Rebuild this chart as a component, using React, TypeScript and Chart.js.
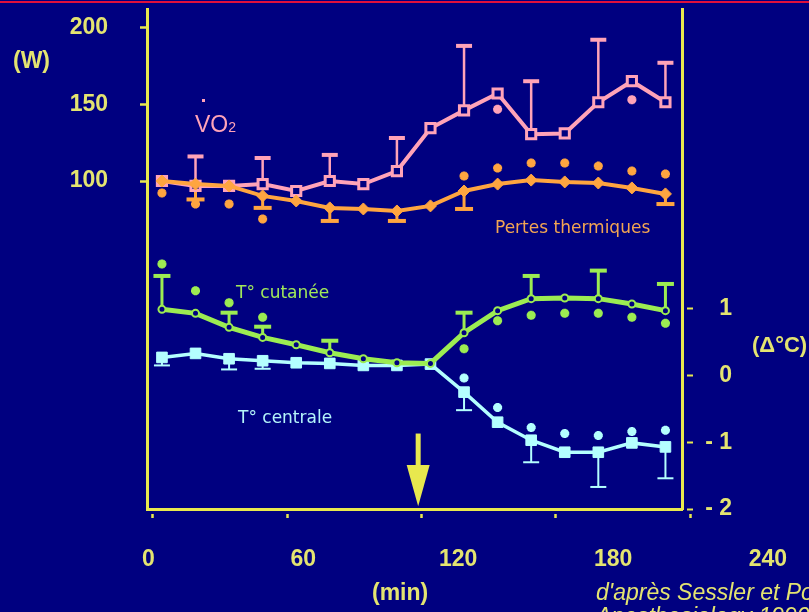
import React, { useEffect, useRef } from "react";
import { Chart, registerables } from "chart.js";

Chart.register(...registerables);

// ---- data ----
const times = [4, 19, 34, 49, 64, 79, 94, 109, 124, 139, 154, 169, 184, 199, 214, 229];

const vo2 = [100, 96.8, 96.8, 98, 93.5, 100, 98, 106.5, 134.4, 146, 157, 130.5, 131, 151.3, 165, 151.3];
const vo2ErrUp = [null, 116, null, 115, null, 117, null, 128, null, 188, null, 165, null, 192, null, 177];
const vo2Sig = [null, null, null, null, null, null, null, null, null, null, 146.8, null, null, null, 153, null];

const pertes = [100, 98, 96.8, 90.3, 87, 82.5, 81.8, 80.5, 83.8, 93.5, 98, 100.6, 99.4, 98.7, 95.5, 91.6];
const pertesErrDown = [null, 88, null, 82.5, null, 74, null, 74, null, 81.8, null, null, null, null, null, 85];
const pertesSig = [92.2, 85.1, 85.1, 75.3, null, null, null, null, null, 103.2, 108.4, 111.7, 111.7, 109.7, 106.5, 104.5];

const tCutanee = [0.99, 0.93, 0.72, 0.57, 0.46, 0.34, 0.25, 0.19, 0.18, 0.64, 0.97, 1.15, 1.16, 1.15, 1.07, 0.97];
const tCutaneeErrUp = [1.49, null, 0.94, 0.73, null, 0.52, null, null, null, 0.94, null, 1.49, null, 1.57, null, 1.37];
const tCutaneeSig = [1.67, 1.27, 1.09, 0.87, null, null, null, null, null, 0.4, 0.82, 0.9, 0.93, 0.93, 0.87, 0.78];

const tCentrale = [0.27, 0.33, 0.25, 0.22, 0.19, 0.18, 0.15, 0.15, 0.17, -0.25, -0.7, -0.97, -1.15, -1.15, -1.01, -1.07];
const tCentraleErrDown = [0.15, null, 0.09, 0.1, null, null, null, null, null, -0.52, null, -1.3, null, -1.67, null, -1.54];
const tCentraleSig = [null, null, null, null, null, null, null, null, null, -0.04, -0.48, -0.78, -0.87, -0.9, -0.84, -0.82];

const timeTicks = [0, 60, 120, 180, 240];
const powerTicks = [100, 150, 200];
const tempTicks = [-2, -1, 0, 1];

// arrow (start of the event), time in min, extent in °C
const arrowTime = 118.5;
const arrowStemTop = -0.87;
const arrowHeadBase = -1.34;
const arrowTip = -1.96;

// ---- styles ----
const NAVY = "#000080";
const AXIS = "#E8E84E";
const TEXT = "#E4E470";
const PINK = "#FFA3B8";
const ORANGE = "#FFA540";
const GREEN = "#9CEC52";
const CYAN = "#B4FFFF";
const FONT = "'Liberation Sans', Arial, sans-serif";

const pts = (ys: (number | null)[]) => times.map((t, i) => ({ x: t, y: ys[i] }));

const errorBarPlugin = {
  id: "errorBars",
  beforeDatasetsDraw(chart: any) {
    const ctx = chart.ctx;
    chart.data.datasets.forEach((ds: any, i: number) => {
      if (!ds.errorBars) return;
      const meta = chart.getDatasetMeta(i);
      const xs = chart.scales[meta.xAxisID];
      const ys = chart.scales[meta.yAxisID];
      ctx.save();
      ctx.strokeStyle = ds.borderColor;
      ds.errorBars.forEach((e: number | null, j: number) => {
        if (e == null) return;
        const p = ds.data[j];
        const x = xs.getPixelForValue(p.x);
        const y0 = ys.getPixelForValue(p.y);
        const y1 = ys.getPixelForValue(e);
        ctx.lineWidth = ds.errorStem;
        ctx.beginPath();
        ctx.moveTo(x, y0);
        ctx.lineTo(x, y1);
        ctx.stroke();
        ctx.lineWidth = ds.errorCapWidth;
        ctx.beginPath();
        ctx.moveTo(x - ds.errorCap, y1);
        ctx.lineTo(x + ds.errorCap, y1);
        ctx.stroke();
      });
      ctx.restore();
    });
  },
};

const arrowPlugin = {
  id: "arrow",
  afterDatasetsDraw(chart: any) {
    const ctx = chart.ctx;
    const x = chart.scales.x.getPixelForValue(arrowTime);
    const yc = chart.scales.yC;
    const yTop = yc.getPixelForValue(arrowStemTop);
    const yBase = yc.getPixelForValue(arrowHeadBase);
    const yTip = yc.getPixelForValue(arrowTip);
    ctx.save();
    ctx.fillStyle = AXIS;
    ctx.fillRect(x - 2.5, yTop, 5, yBase - yTop + 1);
    ctx.beginPath();
    ctx.moveTo(x - 11.5, yBase);
    ctx.lineTo(x + 11.5, yBase);
    ctx.lineTo(x, yTip);
    ctx.closePath();
    ctx.fill();
    ctx.restore();
  },
};

const noPad = (s: any) => {
  s.paddingTop = 0;
  s.paddingBottom = 0;
  s.paddingLeft = 0;
  s.paddingRight = 0;
};

const sigSet = (data: (number | null)[], color: string, axis: string) => ({
  data: pts(data),
  yAxisID: axis,
  showLine: false,
  pointStyle: "star",
  pointRadius: 4.5,
  pointBorderWidth: 3,
  borderColor: color,
  backgroundColor: color,
  pointBorderColor: color,
});

export default function App() {
  const ref = useRef<HTMLCanvasElement | null>(null);

  useEffect(() => {
    if (!ref.current) return;
    const chart = new Chart(ref.current, {
      type: "line",
      data: {
        datasets: [
          {
            label: "Pertes thermiques",
            data: pts(pertes),
            yAxisID: "yW",
            borderColor: ORANGE,
            backgroundColor: ORANGE,
            borderWidth: 4,
            pointStyle: "rectRot",
            pointRadius: 6,
            pointBackgroundColor: ORANGE,
            pointBorderColor: ORANGE,
            pointBorderWidth: 1,
            errorBars: pertesErrDown,
            errorStem: 3,
            errorCap: 9,
            errorCapWidth: 4,
          } as any,
          {
            label: "VO2",
            data: pts(vo2),
            yAxisID: "yW",
            borderColor: PINK,
            backgroundColor: PINK,
            borderWidth: 4,
            pointStyle: "rect",
            pointRadius: 6.5,
            pointBackgroundColor: NAVY,
            pointBorderColor: PINK,
            pointBorderWidth: 3,
            errorBars: vo2ErrUp,
            errorStem: 2.5,
            errorCap: 8,
            errorCapWidth: 4,
          } as any,
          {
            label: "T° cutanée",
            data: pts(tCutanee),
            yAxisID: "yC",
            borderColor: GREEN,
            backgroundColor: GREEN,
            borderWidth: 5,
            pointStyle: "circle",
            pointRadius: 3.5,
            pointBackgroundColor: NAVY,
            pointBorderColor: GREEN,
            pointBorderWidth: 2,
            errorBars: tCutaneeErrUp,
            errorStem: 3,
            errorCap: 8.5,
            errorCapWidth: 4,
          } as any,
          {
            label: "T° centrale",
            data: pts(tCentrale),
            yAxisID: "yC",
            borderColor: CYAN,
            backgroundColor: CYAN,
            borderWidth: 3.5,
            pointStyle: "rect",
            pointRadius: 7.5,
            pointBackgroundColor: CYAN,
            pointBorderColor: CYAN,
            pointBorderWidth: 1,
            errorBars: tCentraleErrDown,
            errorStem: 2,
            errorCap: 8,
            errorCapWidth: 2,
          } as any,
          sigSet(vo2Sig, PINK, "yW") as any,
          sigSet(pertesSig, ORANGE, "yW") as any,
          sigSet(tCutaneeSig, GREEN, "yC") as any,
          sigSet(tCentraleSig, CYAN, "yC") as any,
        ],
      },
      options: {
        animation: false,
        responsive: false,
        layout: { padding: { top: 8, left: 0, right: 77, bottom: 0 } },
        elements: { line: { tension: 0 } },
        plugins: { legend: { display: false }, tooltip: { enabled: false } },
        scales: {
          x: {
            type: "linear",
            position: "bottom",
            weight: 1,
            min: -2.68,
            max: 236.4,
            afterBuildTicks: (s: any) => {
              s.ticks = timeTicks.map((v) => ({ value: v }));
            },
            afterFit: (s: any) => {
              s.height = 20;
              noPad(s);
            },
            ticks: { display: false },
            grid: {
              drawOnChartArea: false,
              drawTicks: true,
              tickLength: 9,
              tickWidth: 2.5,
              tickColor: AXIS,
              tickBorderDash: [0, 3, 5, 100],
            },
            border: { color: AXIS, width: 3 },
          },
          xl: {
            type: "linear",
            position: "bottom",
            weight: 2,
            min: -0.54,
            max: 206.7,
            afterBuildTicks: (s: any) => {
              s.ticks = timeTicks.map((v) => ({ value: v }));
            },
            afterFit: (s: any) => {
              s.height = 83;
              noPad(s);
            },
            grid: { display: false, drawTicks: false },
            border: { display: false },
            ticks: {
              color: TEXT,
              font: { family: FONT, size: 23, weight: "bold" },
              padding: 17,
              autoSkip: false,
              maxRotation: 0,
              callback: (v: any) => String(v),
            },
          },
          yW: {
            type: "linear",
            position: "left",
            min: -113.6,
            max: 211.7,
            afterBuildTicks: (s: any) => {
              s.ticks = powerTicks.map((v) => ({ value: v }));
            },
            afterFit: (s: any) => {
              s.width = 147;
              noPad(s);
            },
            grid: {
              drawOnChartArea: false,
              tickLength: 7,
              tickWidth: 2.5,
              tickColor: AXIS,
            },
            border: { color: AXIS, width: 3 },
            ticks: {
              color: TEXT,
              font: { family: FONT, size: 23, weight: "bold" },
              padding: 32,
              callback: (v: any) => String(v),
            },
          },
          yC: {
            type: "linear",
            position: "right",
            min: -2,
            max: 5.48,
            afterBuildTicks: (s: any) => {
              s.ticks = tempTicks.map((v) => ({ value: v }));
            },
            afterFit: (s: any) => {
              s.width = 50;
              noPad(s);
            },
            grid: {
              drawOnChartArea: false,
              tickLength: 11,
              tickWidth: 2,
              tickColor: AXIS,
              tickBorderDash: [0, 3, 7, 100],
            },
            border: { color: AXIS, width: 3 },
            ticks: {
              color: TEXT,
              font: { family: FONT, size: 23, weight: "bold" },
              padding: 11,
              crossAlign: "far",
              callback: (v: any) => (v < 0 ? `- ${-v}` : String(v)),
            },
          },
        } as any,
      },
      plugins: [errorBarPlugin, arrowPlugin],
    });
    return () => chart.destroy();
  }, []);

  const abs = (left: number, top: number, extra: React.CSSProperties) => ({
    position: "absolute" as const,
    left,
    top,
    whiteSpace: "nowrap" as const,
    lineHeight: 1,
    margin: 0,
    ...extra,
  });

  const axisText: React.CSSProperties = { fontFamily: FONT, fontWeight: "bold", fontSize: 23, color: TEXT };
  const serText = (c: string): React.CSSProperties => ({ fontFamily: "'DejaVu Sans', sans-serif", fontSize: 17, color: c });

  return (
    <div style={{ position: "relative", width: 809, height: 612, background: NAVY, overflow: "hidden" }}>
      <style>{"html,body{margin:0;padding:0;overflow:hidden;background:#000080}"}</style>
      <div style={{ position: "absolute", left: 0, top: 1, width: 809, height: 2, background: "#E0103C" }} />
      <canvas ref={ref} width={809} height={612} style={{ position: "absolute", left: 0, top: 0 }} />
      <div style={abs(13, 49, axisText)}>(W)</div>
      <div style={abs(195, 113, { fontFamily: FONT, fontSize: 23, color: PINK })}>
        VO<span style={{ fontSize: 14 }}>2</span>
      </div>
      <div style={{ position: "absolute", left: 202, top: 99, width: 3, height: 3, background: PINK }} />
      <div style={abs(495, 219, serText("#F2A552"))}>Pertes thermiques</div>
      <div style={abs(236, 284, serText("#A0E85A"))}>T° cutanée</div>
      <div style={abs(238, 409, serText("#B4F4FA"))}>T° centrale</div>
      <div style={abs(752, 334, { ...axisText, fontSize: 22 })}>(Δ°C)</div>
      <div style={abs(372, 581, axisText)}>(min)</div>
      <div
        style={{
          position: "absolute",
          left: 596,
          top: 580,
          whiteSpace: "nowrap",
          lineHeight: "24px",
          fontFamily: FONT,
          fontStyle: "italic",
          fontSize: 23,
          color: TEXT,
        }}
      >
        d'après Sessler et Ponte,
        <br />
        Anesthesiology 1990
      </div>
    </div>
  );
}
